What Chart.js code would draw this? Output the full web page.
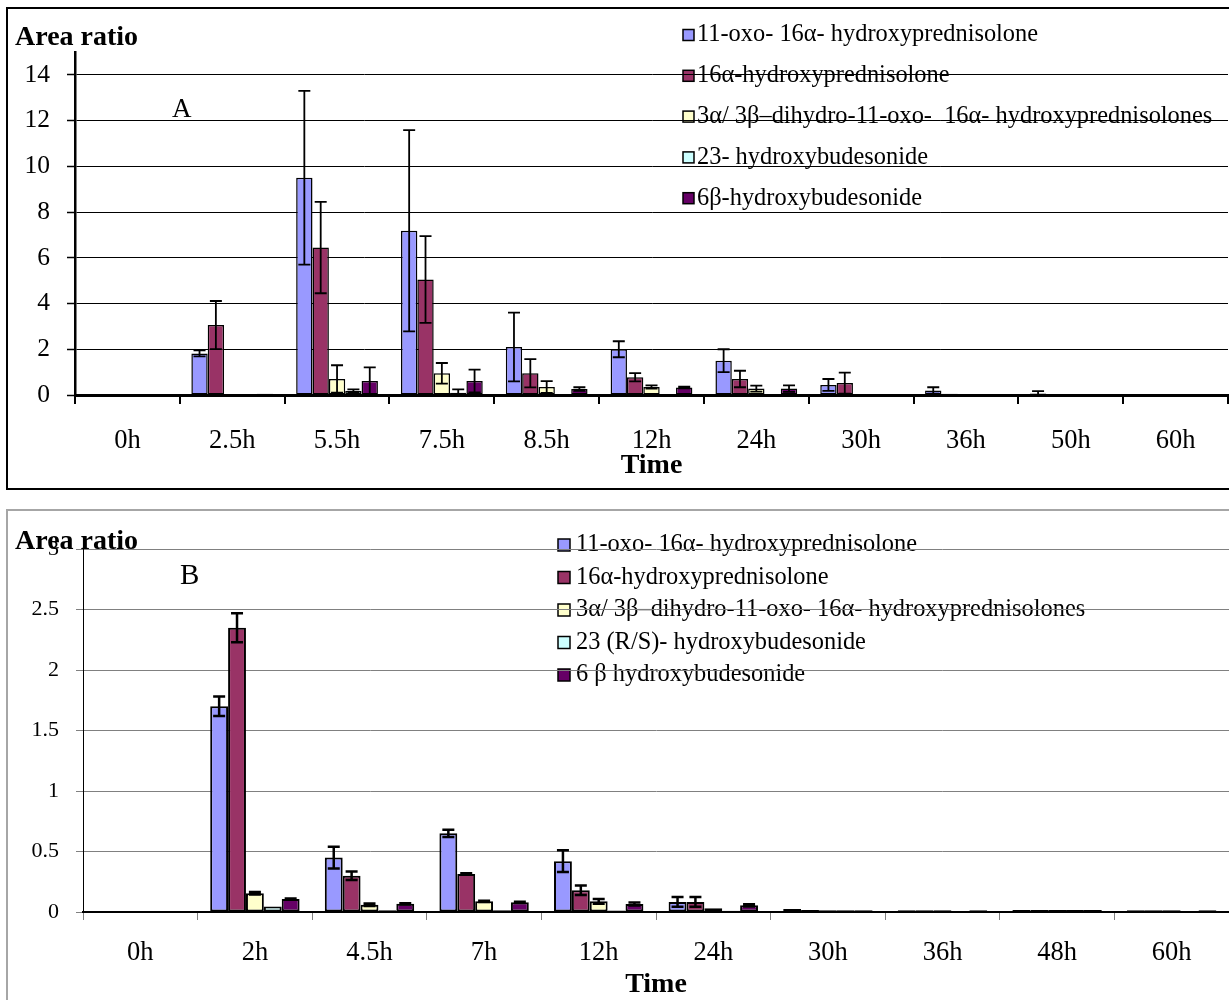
<!DOCTYPE html>
<html>
<head>
<meta charset="utf-8">
<script src="https://cdn.jsdelivr.net/npm/chart.js@4.4.1/dist/chart.umd.min.js"></script>
<style>
    body { margin: 0; background: #fff; width: 1229px; height: 1000px; overflow: hidden; position: relative; }
    .frame { position: absolute; box-sizing: border-box; }
    #frameA { left: 6px; top: 7px; width: 1240px; height: 483px; border: 2px solid #000; }
    #frameB { left: 6px; top: 509px; width: 1240px; height: 520px; border: 2px solid #a6a6a6; }
    canvas { position: absolute; left: 0; }
    #chartA { top: 0; }
    #chartB { top: 505px; }
</style>
</head>
<body>
<div class="frame" id="frameA"></div>
<div class="frame" id="frameB"></div>
<canvas id="chartA" width="1229" height="490"></canvas>
<canvas id="chartB" width="1229" height="495"></canvas>
<script>
/* Metabolite area ratios over time - panels A and B */

const SERIF = '"Liberation Serif", "Times New Roman", serif';
const SERIES_COLORS = ['#9999ff', '#993366', '#ffffcc', '#ccffff', '#660066'];

// ---- panel A ----
const timesA = ['0h', '2.5h', '5.5h', '7.5h', '8.5h', '12h', '24h', '30h', '36h', '50h', '60h'];
const namesA = [
    '11-oxo- 16α- hydroxyprednisolone',
    '16α-hydroxyprednisolone',
    '3α/ 3β–dihydro-11-oxo-  16α- hydroxyprednisolones',
    '23- hydroxybudesonide',
    '6β-hydroxybudesonide',
];
const oxoA      = [0, 1.82, 9.5, 7.18, 2.1, 2.0, 1.5, 0.44, 0.2, 0.07, 0];
const oxoErrA   = [0, 0.13, 3.8, 4.4, 1.5, 0.35, 0.5, 0.26, 0.14, 0.1, 0];
const hpA       = [0, 3.06, 6.45, 5.05, 0.95, 0.78, 0.7, 0.52, 0.05, 0, 0];
const hpErrA    = [0, 1.05, 2.0, 1.9, 0.62, 0.18, 0.36, 0.46, 0, 0, 0];
const dihydroA  = [0, 0, 0.7, 0.95, 0.35, 0.35, 0.28, 0, 0, 0, 0];
const dihydroErrA = [0, 0, 0.6, 0.45, 0.26, 0.07, 0.13, 0, 0, 0, 0];
const hb23A     = [0, 0, 0.17, 0.1, 0, 0, 0, 0, 0, 0, 0];
const hb23ErrA  = [0, 0, 0.08, 0.15, 0, 0, 0, 0, 0, 0, 0];
const hb6A      = [0, 0.05, 0.61, 0.61, 0.26, 0.33, 0.28, 0.03, 0, 0, 0];
const hb6ErrA   = [0, 0, 0.6, 0.5, 0.08, 0.04, 0.14, 0, 0, 0, 0];
const ticksA = { min: 0, max: 15, step: 2 };

// ---- panel B ----
const timesB = ['0h', '2h', '4.5h', '7h', '12h', '24h', '30h', '36h', '48h', '60h'];
const namesB = [
    '11-oxo- 16α- hydroxyprednisolone',
    '16α-hydroxyprednisolone',
    '3α/ 3β–dihydro-11-oxo- 16α- hydroxyprednisolones',
    '23 (R/S)- hydroxybudesonide',
    '6 β hydroxybudesonide',
];
const oxoB      = [0, 1.70, 0.45, 0.65, 0.42, 0.083, 0.024, 0.014, 0.016, 0.014];
const oxoErrB   = [0, 0.08, 0.09, 0.03, 0.09, 0.04, 0, 0, 0, 0];
const hpB       = [0, 2.35, 0.30, 0.315, 0.18, 0.083, 0.016, 0.014, 0.016, 0.014];
const hpErrB    = [0, 0.12, 0.035, 0.005, 0.04, 0.04, 0, 0, 0, 0];
const dihydroB  = [0, 0.155, 0.06, 0.088, 0.088, 0.03, 0.014, 0.014, 0.016, 0.014];
const dihydroErrB = [0, 0.01, 0.01, 0.005, 0.02, 0, 0, 0, 0, 0];
const hb23B     = [0, 0.045, 0.015, 0.015, 0.012, 0.01, 0.014, 0, 0.016, 0];
const hb23ErrB  = [0, 0, 0, 0, 0, 0, 0, 0, 0, 0];
const hb6B      = [0, 0.107, 0.068, 0.08, 0.066, 0.055, 0.014, 0.014, 0.016, 0.014];
const hb6ErrB   = [0, 0.005, 0.005, 0.005, 0.012, 0.01, 0, 0, 0, 0];
const ticksB = { min: 0, max: 3, step: 0.5 };

Chart.defaults.color = '#000';
Chart.defaults.font.family = SERIF;
Chart.defaults.animation = false;

// symmetric error bars on top of each bar
const errorBarPlugin = {
    id: 'errorBars',
    afterDatasetsDraw(chart, args, opts) {
        const { ctx } = chart;
        const yScale = chart.scales.y;
        const cap = opts.cap || 6;
        ctx.save();
        ctx.strokeStyle = '#000';
        ctx.lineWidth = opts.width || 2;
        chart.data.datasets.forEach((ds, i) => {
            chart.getDatasetMeta(i).data.forEach((bar, j) => {
                const err = ds.errors ? ds.errors[j] : 0;
                if (!err) return;
                const v = ds.data[j];
                const top = yScale.getPixelForValue(v + err);
                const bot = yScale.getPixelForValue(Math.max(0, v - err));
                ctx.beginPath();
                ctx.moveTo(bar.x, top); ctx.lineTo(bar.x, bot);
                ctx.moveTo(bar.x - cap, top); ctx.lineTo(bar.x + cap, top);
                ctx.moveTo(bar.x - cap, bot); ctx.lineTo(bar.x + cap, bot);
                ctx.stroke();
            });
        });
        ctx.restore();
    },
};

// Excel-style legend inside the plot + panel letter (drawn first so grid runs over it)
const boxLegendPlugin = {
    id: 'boxLegend',
    beforeDraw(chart, args, opts) {
        const { ctx } = chart;
        ctx.save();
        ctx.font = `${opts.fontSize}px ${SERIF}`;
        ctx.textBaseline = 'middle';
        ctx.lineWidth = 1.5;
        ctx.strokeStyle = '#000';
        chart.data.datasets.forEach((ds, i) => {
            const cy = opts.y + i * opts.rowGap;
            ctx.fillStyle = ds.backgroundColor;
            ctx.fillRect(opts.x, cy - opts.box / 2, opts.box, opts.box);
            ctx.strokeRect(opts.x, cy - opts.box / 2, opts.box, opts.box);
            ctx.fillStyle = '#000';
            ctx.fillText(ds.label, opts.textX, cy);
        });
        ctx.font = `${opts.tagSize}px ${SERIF}`;
        ctx.textBaseline = 'alphabetic';
        ctx.fillText(opts.tag, opts.tagX, opts.tagY);
        ctx.restore();
    },
};

function buildDatasets(names, values, errors, borderWidth) {
    return names.map((name, i) => ({
        label: name,
        data: values[i],
        errors: errors[i],
        backgroundColor: SERIES_COLORS[i],
        borderColor: '#000',
        borderWidth: borderWidth,
        borderSkipped: false,
        categoryPercentage: 0.78,
        barPercentage: 1.0,
    }));
}

function makePanel(canvasId, p) {
    return new Chart(document.getElementById(canvasId), {
        type: 'bar',
        data: {
            labels: p.labels,
            datasets: buildDatasets(p.names, p.values, p.errors, p.barBorder),
        },
        options: {
            responsive: false,
            layout: { padding: { left: 15, right: p.padRight, top: 4, bottom: 0 } },
            scales: {
                x: {
                    grid: {
                        offset: true,
                        drawOnChartArea: false,
                        color: p.xTickColor,
                        tickLength: p.xTickLen,
                        lineWidth: p.xTickWidth,
                    },
                    border: { color: '#000', width: p.xAxisWidth },
                    ticks: { font: { size: 26.5 }, padding: p.xLabelPad, color: '#000' },
                    title: {
                        display: true,
                        text: 'Time',
                        font: { size: 28, weight: 'bold', lineHeight: 1 },
                        padding: { top: 0, bottom: p.timePad },
                        color: '#000',
                    },
                    afterFit: (s) => { s.height = p.xHeight; },
                },
                y: {
                    min: p.ticks.min,
                    max: p.ticks.max,
                    grid: {
                        color: p.gridColor,
                        lineWidth: 1,
                        tickLength: p.yTickLen,
                        tickColor: p.yTickColor,
                        tickWidth: p.yTickWidth,
                    },
                    border: { color: '#000', width: p.yAxisWidth },
                    ticks: {
                        stepSize: p.ticks.step,
                        includeBounds: false,
                        font: { size: p.yFont },
                        padding: 17,
                        color: '#000',
                        callback: (v) => String(v),
                    },
                    afterFit: (s) => { s.width = p.yWidth; },
                },
            },
            plugins: {
                legend: { display: false },
                tooltip: { enabled: false },
                title: {
                    display: true,
                    text: 'Area ratio',
                    align: 'start',
                    color: '#000',
                    font: { size: 28, weight: 'bold', lineHeight: p.titleLH },
                    padding: p.titlePad,
                },
                errorBars: p.errorBars,
                boxLegend: p.legend,
            },
        },
        plugins: [errorBarPlugin, boxLegendPlugin],
    });
}

makePanel('chartA', {
    labels: timesA,
    names: namesA,
    values: [oxoA, hpA, dihydroA, hb23A, hb6A],
    errors: [oxoErrA, hpErrA, dihydroErrA, hb23ErrA, hb6ErrA],
    ticks: ticksA,
    barBorder: 1.5,
    padRight: 1,
    xTickColor: '#000', xTickLen: 9, xTickWidth: 2, xAxisWidth: 3,
    xLabelPad: 21, timePad: 10, xHeight: 95,
    gridColor: '#000', yTickLen: 8, yTickColor: '#000', yTickWidth: 1.5, yAxisWidth: 2.5,
    yFont: 25.5, yWidth: 60,
    titleLH: 1, titlePad: { top: 19.5, bottom: 0.5 },
    errorBars: { width: 1.8, cap: 6 },
    legend: {
        x: 683, textX: 697, y: 35, rowGap: 40.8, box: 11, fontSize: 24.4,
        tag: 'A', tagX: 172, tagY: 117, tagSize: 27,
    },
});

makePanel('chartB', {
    labels: timesB,
    names: namesB,
    values: [oxoB, hpB, dihydroB, hb23B, hb6B],
    errors: [oxoErrB, hpErrB, dihydroErrB, hb23ErrB, hb6ErrB],
    ticks: ticksB,
    barBorder: 2,
    padRight: 0,
    xTickColor: '#808080', xTickLen: 8, xTickWidth: 1, xAxisWidth: 2,
    xLabelPad: 17, timePad: 1, xHeight: 88,
    gridColor: '#808080', yTickLen: 7, yTickColor: '#808080', yTickWidth: 1, yAxisWidth: 1,
    yFont: 22, yWidth: 68,
    titleLH: 0.5, titlePad: { top: 25.5, bottom: 0.5 },
    errorBars: { width: 2.5, cap: 6 },
    legend: {
        x: 558, textX: 576, y: 40, rowGap: 32.5, box: 12, fontSize: 24.4,
        tag: 'B', tagX: 180, tagY: 79, tagSize: 29,
    },
});
</script>
</body>
</html>
